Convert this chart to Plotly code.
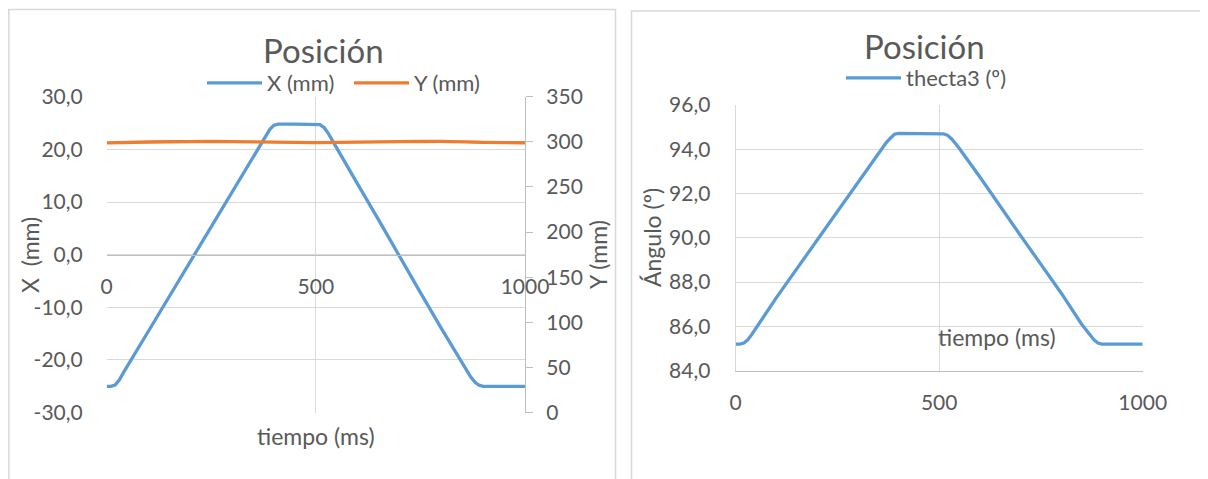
import plotly.graph_objects as go

# ---------------- data ----------------
time_x = [0, 10, 20, 30, 40, 60, 100, 150, 200, 250, 300, 350, 380, 390, 400, 410,
          450, 500, 510, 520, 530, 540, 550, 600, 650, 700, 750, 800, 850, 870, 880,
          890, 900, 950, 1000]
x_mm = [-25.0, -25.0, -24.75, -23.8, -22.4, -19.7, -14.5, -7.9, -1.3, 5.3, 11.9, 18.5,
        22.5, 23.8, 24.6, 24.8, 24.8, 24.8, 24.7, 24.1, 23.0, 21.6, 20.2, 13.4, 6.6,
        -0.4, -7.2, -14.0, -20.6, -23.2, -24.2, -24.8, -25.0, -25.0, -25.0]

time_y = [0, 100, 200, 300, 400, 500, 600, 700, 800, 900, 1000]
y_mm = [298.9, 299.8, 300.3, 300.3, 299.6, 299.2, 299.6, 300.2, 300.4, 299.5, 299.0]

time_t = [0, 10, 20, 30, 40, 60, 100, 150, 200, 250, 300, 350, 370, 380, 390, 400,
          450, 500, 510, 520, 530, 540, 550, 600, 650, 700, 750, 800, 850, 870, 880,
          890, 900, 950, 1000]
thecta3 = [85.2, 85.2, 85.25, 85.4, 85.65, 86.2, 87.3, 88.6, 89.9, 91.2, 92.5, 93.8,
           94.3, 94.5, 94.68, 94.72, 94.72, 94.72, 94.7, 94.64, 94.48, 94.26, 94.02,
           92.75, 91.4, 90.1, 88.8, 87.5, 86.1, 85.6, 85.4, 85.25, 85.2, 85.2, 85.2]

x_ticks = [-30, -20, -10, 0, 10, 20, 30]
x_ticktext = ["-30,0", "-20,0", "-10,0", "0,0", "10,0", "20,0", "30,0"]
y_ticks = [0, 50, 100, 150, 200, 250, 300, 350]
t_ticks = [0, 500, 1000]
ang_ticks = [84, 86, 88, 90, 92, 94, 96]
ang_ticktext = ["84,0", "86,0", "88,0", "90,0", "92,0", "94,0", "96,0"]

titles = ["Posición", "Posición"]
x_title = "tiempo (ms)"
names = ["X (mm)", "Y (mm)", "thecta3 (º)"]

# ---------------- layout helpers ----------------
OFF = 8                     # page body margin
W, H = 1208 - OFF, 479 - OFF
FONT = "Lato"
TXT = "#595959"
GRID = "#d9d9d9"
AXL = "#bfbfbf"
BLUE = "#5B9BD5"
ORANGE = "#ED7D31"


def px(v):
    return (v - OFF) / W


def py(v):
    return 1 - (v - OFF) / H


# left plot area (page pixels)
L_x0, L_x1, L_y0, L_y1 = 106.7, 525.0, 96.7, 412.6
# right plot area
R_x0, R_x1, R_y0, R_y1 = 735.7, 1142.7, 105.0, 370.7

ydom = [py(L_y1), py(L_y0)]
zero_pos = ydom[0] + (ydom[1] - ydom[0]) * 0.5

fig = go.Figure()
fig.add_trace(go.Scatter(x=time_x, y=x_mm, name=names[0], mode="lines",
                         line=dict(color=BLUE, width=3.3),
                         xaxis="x", yaxis="y", legend="legend"))
fig.add_trace(go.Scatter(x=time_y, y=y_mm, name=names[1], mode="lines",
                         line=dict(color=ORANGE, width=3.3, shape="spline", smoothing=0.8),
                         xaxis="x", yaxis="y2", legend="legend"))
fig.add_trace(go.Scatter(x=time_t, y=thecta3, name=names[2], mode="lines",
                         line=dict(color=BLUE, width=3.3),
                         xaxis="x2", yaxis="y3", legend="legend2"))

tickfont = dict(family=FONT, size=21, color=TXT)

fig.update_layout(
    template="none",
    width=W, height=H, autosize=False,
    margin=dict(l=0, r=0, t=0, b=0, pad=0, autoexpand=False),
    paper_bgcolor="white", plot_bgcolor="white",
    font=dict(family=FONT, color=TXT),
    xaxis=dict(domain=[px(L_x0), px(L_x1)], range=[0, 1000], tickvals=t_ticks,
               anchor="free", position=zero_pos, automargin=False,
               showgrid=True, gridcolor=GRID, gridwidth=1.3, zeroline=False,
               showline=True, linecolor=AXL, linewidth=1.3, ticks="",
               tickfont=tickfont, ticklabelstandoff=13, fixedrange=True),
    yaxis=dict(domain=ydom, range=[-30, 30], tickvals=x_ticks, ticktext=x_ticktext,
               anchor="x", showgrid=True, gridcolor=GRID, gridwidth=1.3, automargin=False,
               zeroline=False, showline=False, ticks="",
               tickfont=tickfont, ticklabelstandoff=23),
    yaxis2=dict(domain=ydom, range=[0, 350], tickvals=y_ticks, overlaying="y", side="right",
                anchor="x", showgrid=False, zeroline=False, showline=True, automargin=False,
                linecolor=AXL, linewidth=1.3, ticks="outside", ticklen=7,
                tickcolor=AXL, tickwidth=1.3, tickfont=tickfont, ticklabelstandoff=9),
    xaxis2=dict(domain=[px(R_x0), px(R_x1)], range=[0, 1000], tickvals=t_ticks,
                anchor="y3", showgrid=True, gridcolor=GRID, gridwidth=1.3, automargin=False,
                zeroline=False, showline=True, linecolor=AXL, linewidth=1.3,
                ticks="", tickfont=tickfont, ticklabelstandoff=13),
    yaxis3=dict(domain=[py(R_y1), py(R_y0)], range=[84, 96], tickvals=ang_ticks,
                ticktext=ang_ticktext, automargin=False,
                anchor="x2", showgrid=True, gridcolor=GRID, gridwidth=1.3,
                zeroline=False, showline=True, linecolor=GRID, linewidth=1.3,
                ticks="", tickfont=tickfont, ticklabelstandoff=20),
    legend=dict(orientation="h", x=px(202), y=py(83), xanchor="left", yanchor="middle",
                font=dict(family=FONT, size=22, color=TXT), bgcolor="rgba(0,0,0,0)",
                itemwidth=55, entrywidth=77, entrywidthmode="pixels",
                borderwidth=0, tracegroupgap=0),
    legend2=dict(orientation="h", x=px(841), y=py(78), xanchor="left", yanchor="middle",
                 font=dict(family=FONT, size=22, color=TXT), bgcolor="rgba(0,0,0,0)",
                 itemwidth=55, borderwidth=0),
    showlegend=True,
)

# chart-area frames
fig.add_shape(type="rect", xref="paper", yref="paper", x0=px(8.8), x1=px(615.5),
              y0=-0.2, y1=py(9.6), line=dict(color=GRID, width=1.5), layer="below")
fig.add_shape(type="rect", xref="paper", yref="paper", x0=px(631.5), x1=1.2,
              y0=-0.2, y1=py(11), line=dict(color=GRID, width=1.5), layer="below")

ann = []
ann.append(dict(text=titles[0], x=px(324), y=py(50), font=dict(size=33)))
ann.append(dict(text=titles[1], x=px(924), y=py(46), font=dict(size=33)))
ann.append(dict(text=x_title, x=px(316), y=py(436), font=dict(size=23)))
ann.append(dict(text=x_title, x=px(997), y=py(337), font=dict(size=23)))
ann.append(dict(text="X \u00a0(mm)", x=px(30), y=py(255), textangle=-90, font=dict(size=23)))
ann.append(dict(text="Y (mm)", x=px(598), y=py(255), textangle=-90, font=dict(size=23)))
ann.append(dict(text="Ángulo (º)", x=px(652), y=py(238), textangle=-90, font=dict(size=23)))
for a in ann:
    a.update(xref="paper", yref="paper", showarrow=False, xanchor="center",
             yanchor="middle")
    a["font"].update(family=FONT, color=TXT)
fig.update_layout(annotations=ann)

fig.write_html("out.html")
